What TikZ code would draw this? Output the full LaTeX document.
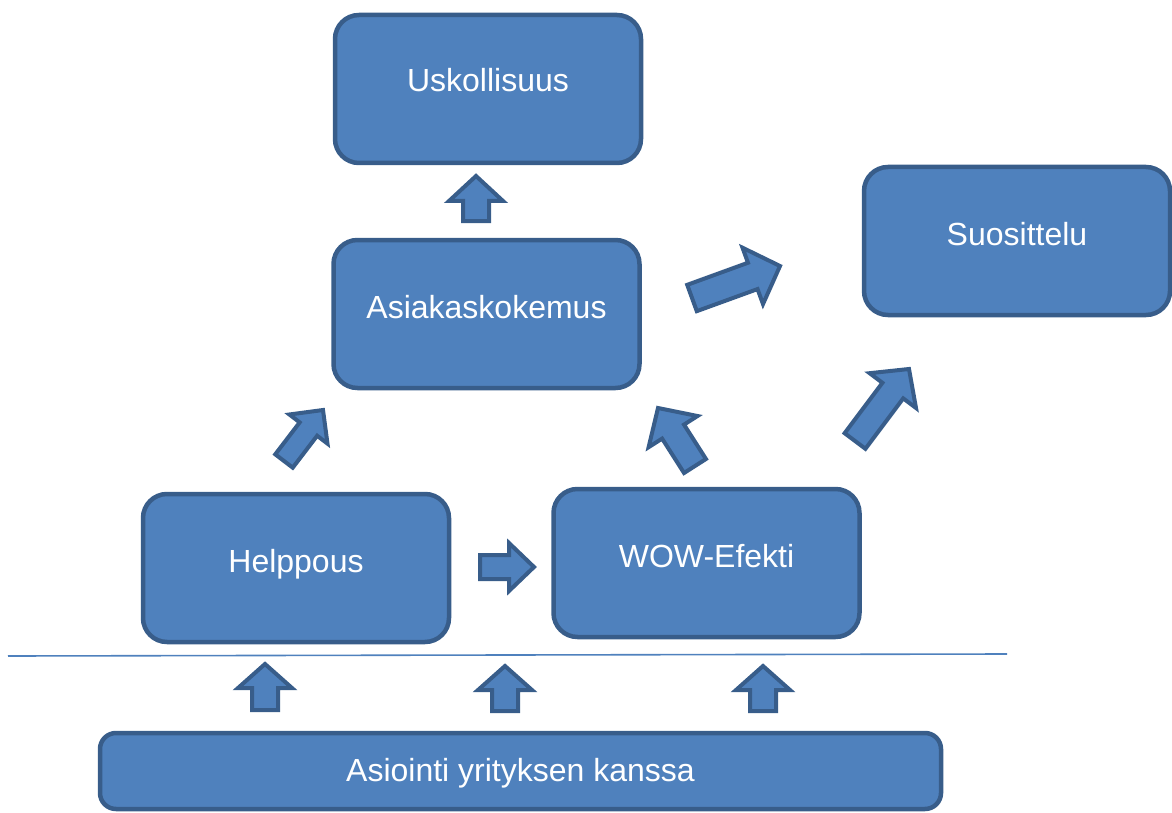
\documentclass[tikz,border=0pt]{standalone}
\usepackage{fontspec}
\setmainfont{Liberation Sans}
\usetikzlibrary{calc}
\definecolor{boxfill}{HTML}{4F81BD}
\definecolor{boxline}{HTML}{385D8A}
\definecolor{sepline}{HTML}{4F81BD}
% block arrow: #1 tail, #2 tip, #3 shaft half width, #4 head half width, #5 head length
\newcommand\blockarrow[5]{%
  \coordinate (bT) at (#1);
  \coordinate (bP) at (#2);
  \coordinate (bH) at ($(bP)!#5!(bT)$);
  \draw[barr] ($(bT)!#3!90:(bP)$) -- ($(bH)!#3!90:(bP)$) -- ($(bH)!#4!90:(bP)$) -- (bP)
    -- ($(bH)!#4!-90:(bP)$) -- ($(bH)!#3!-90:(bP)$) -- ($(bT)!#3!-90:(bP)$) -- cycle;
}
\begin{document}
\begin{tikzpicture}[x=1pt,y=-1pt,
  box/.style={draw=boxline,fill=boxfill,line width=4.5pt,rounded corners=24pt,
    minimum width=306pt,minimum height=148pt,inner sep=0pt},
  txt/.style={text=white,font=\fontsize{32}{37}\selectfont,anchor=base,inner sep=0pt},
  barr/.style={draw=boxline,fill=boxfill,line width=4pt,line join=miter}]
\useasboundingbox (0,0) rectangle (1172,813);

% boxes
\node[box] (usk) at (488,89) {};
\node[box] (suos) at (1017,241) {};
\node[box] (asia) at (486.5,314) {};
\node[box] (help) at (296,568) {};
\node[box] (wow) at (706.5,563) {};
\node[box,minimum width=841pt,minimum height=76pt,rounded corners=16pt] (asioi) at (520.5,771) {};

% texts
\node[txt] at ($(usk.center)+(0,3)$) {Uskollisuus};
\node[txt] at ($(suos.center)+(0,4)$) {Suosittelu};
\node[txt] at ($(asia.center)+(0,4)$) {Asiakaskokemus};
\node[txt] at ($(help.center)+(0,4)$) {Helppous};
\node[txt] at ($(wow.center)+(0,4)$) {WOW-Efekti};
\node[txt] at ($(asioi.center)+(0,10)$) {Asiointi yrityksen kanssa};

% separator line
\coordinate (lineL) at (8,656);
\coordinate (lineR) at (1007,654);
\draw[sepline,line width=1.6pt] (lineL) -- (lineR);

% block arrows
\blockarrow{476,221}{476,176}{13pt}{27pt}{25pt}
\blockarrow{692,298}{780,266}{14pt}{30pt}{29pt}
\blockarrow{284,461}{323,410}{11pt}{24pt}{24pt}
\blockarrow{695,466}{658,408}{13pt}{29pt}{28pt}
\blockarrow{855,441}{909,369}{13pt}{29pt}{27pt}
\blockarrow{480,567}{534,567}{12pt}{24pt}{25pt}
\blockarrow{265,710}{265,664}{13pt}{27pt}{24pt}
\blockarrow{505,711}{505,666}{13pt}{27pt}{24pt}
\blockarrow{763,711}{763,666}{13pt}{27pt}{24pt}
\end{tikzpicture}
\end{document}
